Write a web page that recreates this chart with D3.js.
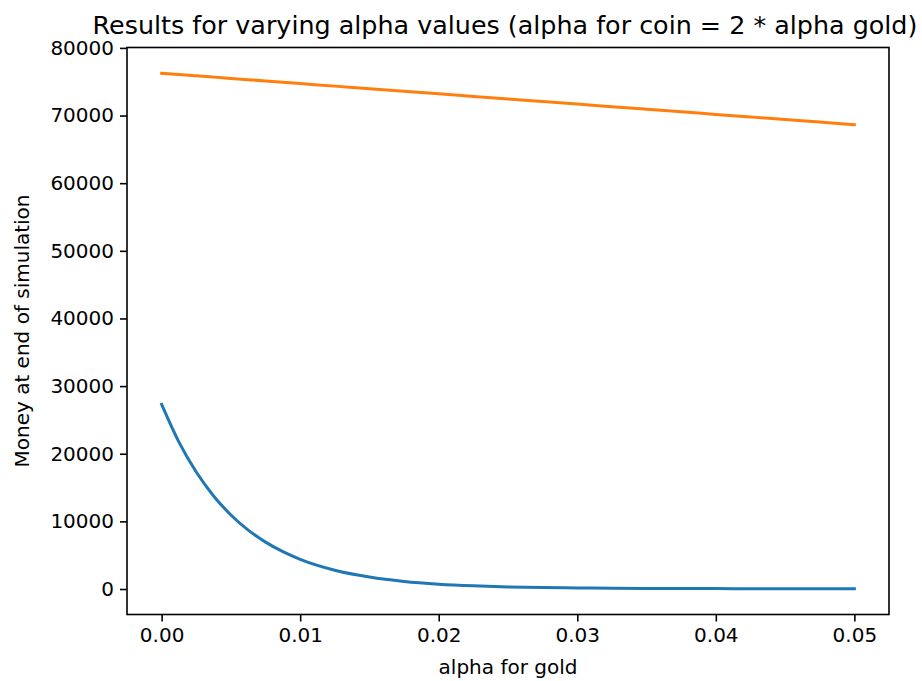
<!DOCTYPE html>
<html>
<head>
<meta charset="utf-8">
<script src="https://cdn.jsdelivr.net/npm/d3@7"></script>
<style>
  body { margin: 0; background: #fff; }
  svg text { font-family: "DejaVu Sans", sans-serif; fill: #000; }
</style>
</head>
<body>
<div id="chart"></div>
<script>
// alpha for gold values (x)
const alphaGold = [0, 0.00125, 0.0025, 0.00375, 0.005, 0.00625, 0.0075, 0.00875, 0.01,
  0.0125, 0.015, 0.0175, 0.02, 0.0225, 0.025, 0.0275, 0.03, 0.0325, 0.035, 0.0375,
  0.04, 0.0425, 0.045, 0.0475, 0.05];

// money at end of simulation
const blueMoney = [27300, 21720, 17300, 13760, 10950, 8710, 6930, 5520, 4390,
  2780, 1770, 1120, 720, 470, 310, 210, 150, 110, 85, 70,
  60, 52, 47, 44, 42];
const orangeMoney = [76250, 76060, 75870, 75680, 75490, 75300, 75110, 74920, 74730,
  74350, 73970, 73590, 73210, 72830, 72450, 72070, 71690, 71310, 70930, 70550,
  70170, 69790, 69410, 69030, 68650];

const xTicks = [0, 0.01, 0.02, 0.03, 0.04, 0.05];
const yTicks = [0, 10000, 20000, 30000, 40000, 50000, 60000, 70000, 80000];

const width = 922, height = 681;
const plot = { left: 127, right: 889, top: 47.5, bottom: 614.5 };

const svg = d3.select("#chart").append("svg")
  .attr("width", width)
  .attr("height", height);

// matplotlib style 5% margins
const xMin = d3.min(alphaGold), xMax = d3.max(alphaGold);
const xPad = (xMax - xMin) * 0.05;
const xScale = d3.scaleLinear()
  .domain([xMin - xPad, xMax + xPad])
  .range([plot.left, plot.right]);

const allY = blueMoney.concat(orangeMoney);
const yMin = d3.min(allY), yMax = d3.max(allY);
const yPad = (yMax - yMin) * 0.05;
const yScale = d3.scaleLinear()
  .domain([yMin - yPad, yMax + yPad])
  .range([plot.bottom, plot.top]);

// lines
const line = d3.line()
  .x(d => xScale(d[0]))
  .y(d => yScale(d[1]))
  .curve(d3.curveMonotoneX);

const series = [
  { values: blueMoney, color: "#1f77b4" },
  { values: orangeMoney, color: "#ff7f0e" }
];

svg.selectAll("path.series")
  .data(series)
  .enter()
  .append("path")
  .attr("class", "series")
  .attr("fill", "none")
  .attr("stroke", d => d.color)
  .attr("stroke-width", 3)
  .attr("stroke-linecap", "square")
  .attr("d", d => line(alphaGold.map((a, i) => [a, d.values[i]])));

// axes
const xAxis = svg.append("g")
  .attr("transform", `translate(0,${plot.bottom})`)
  .call(d3.axisBottom(xScale).tickValues(xTicks).tickFormat(d3.format(".2f"))
    .tickSizeInner(7).tickSizeOuter(0).tickPadding(6));

const yAxis = svg.append("g")
  .attr("transform", `translate(${plot.left},0)`)
  .call(d3.axisLeft(yScale).tickValues(yTicks).tickFormat(d3.format("d"))
    .tickSizeInner(7).tickSizeOuter(0).tickPadding(6));

[xAxis, yAxis].forEach(g => {
  g.select(".domain").remove();
  g.selectAll(".tick line").attr("stroke", "#000").attr("stroke-width", 1.6);
  g.selectAll(".tick text").attr("font-size", "20px").attr("fill", "#000")
    .style("font-family", "DejaVu Sans, sans-serif");
});

// frame
svg.append("rect")
  .attr("x", plot.left)
  .attr("y", plot.top)
  .attr("width", plot.right - plot.left)
  .attr("height", plot.bottom - plot.top)
  .attr("fill", "none")
  .attr("stroke", "#000")
  .attr("stroke-width", 1.6);

// title
svg.append("text")
  .attr("x", 505)
  .attr("y", 34)
  .attr("text-anchor", "middle")
  .attr("font-size", "25.4px")
  .text("Results for varying alpha values (alpha for coin = 2 * alpha gold)");

// axis labels
svg.append("text")
  .attr("x", (plot.left + plot.right) / 2)
  .attr("y", 674)
  .attr("text-anchor", "middle")
  .attr("font-size", "20px")
  .text("alpha for gold");

svg.append("text")
  .attr("transform", `translate(29,${(plot.top + plot.bottom) / 2}) rotate(-90)`)
  .attr("text-anchor", "middle")
  .attr("font-size", "20px")
  .text("Money at end of simulation");
</script>
</body>
</html>
